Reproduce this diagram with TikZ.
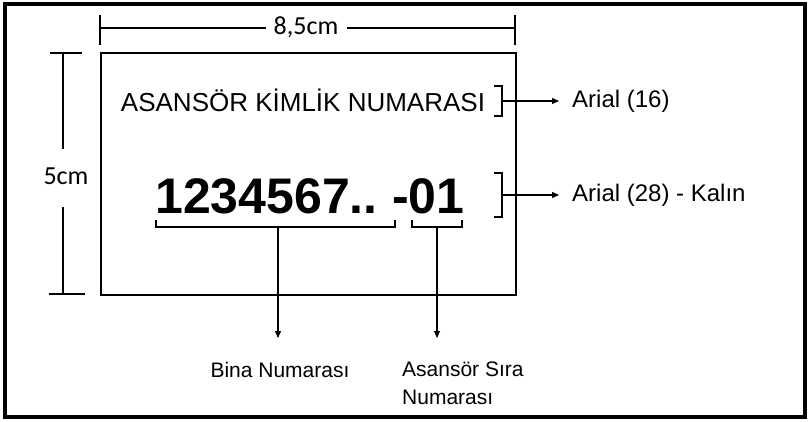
\documentclass[tikz,border=0pt]{standalone}
\usepackage{fontspec}
\setmainfont{Liberation Sans}
\newfontfamily\dimfont{Carlito}
\usepackage{tikz}
\usetikzlibrary{arrows.meta, positioning}

\begin{document}
\begin{tikzpicture}[x=1pt, y=-1pt, every node/.style={inner sep=0pt},
    dimline/.style={line width=1.3pt},
    dimtext/.style={font=\dimfont\fontsize{26}{26}\selectfont},
    brk/.style={line width=1.2pt},
    pointer/.style={line width=1.1pt, -{Triangle[length=7pt, width=6pt]}},
    lbl/.style={font=\fontsize{24}{24}\selectfont},
    sublbl/.style={font=\fontsize{21}{28}\selectfont},
    bignum/.style={font=\bfseries\fontsize{50}{50}\selectfont, anchor=base west}]
    \useasboundingbox (0,0) rectangle (808,422);
    \draw[line width=3.5pt] (5,4) rectangle (805,417);

    % plate
    \draw[line width=1.3pt] (101,53) rectangle (516,295);
    \node[font=\fontsize{26}{26}\selectfont] (title) at (303,100) {ASANSÖR KİMLİK NUMARASI};
    \node[bignum] (binano) at (155,213) {1234567..};
    \node[bignum] (sirano) at ([xshift=14pt]binano.base east) {-01};

    % dimensions
    \node[dimtext] (wlbl) at (306,27) {8,5cm};
    \coordinate (wl) at (100,28);
    \coordinate (wr) at (515,28);
    \draw[dimline] (100,15) -- (100,45);
    \draw[dimline] (515,15) -- (515,45);
    \draw[dimline] (wl) -- ([xshift=-8pt]wl -| wlbl.west);
    \draw[dimline] ([xshift=8pt]wr -| wlbl.east) -- (wr);

    \node[dimtext] (hlbl) at (66,176) {5cm};
    \coordinate (ht) at (63,53);
    \coordinate (hb) at (63,294);
    \draw[dimline] (50,53) -- (82,53);
    \draw[dimline] (49,294) -- (85,294);
    \draw[dimline] (ht) -- ([yshift=18pt]ht |- hlbl.north);
    \draw[dimline] ([yshift=-22pt]hb |- hlbl.south) -- (hb);

    % font notes
    \node[lbl, anchor=west] (f16) at (572,101) {Arial (16)};
    \node[lbl, anchor=west] (f28) at (572,195) {Arial (28) - Kalın};
    \coordinate (k1) at (502,101);
    \coordinate (k2) at (502,195);
    \draw[brk] (494,86) -- (502,86) -- (502,116) -- (494,116);
    \draw[brk] (494,173) -- (502,173) -- (502,217) -- (494,217);
    \draw[pointer, shorten >=13pt] (k1) -- (f16.west);
    \draw[pointer, shorten >=13pt] (k2) -- (f28.west);

    % parts of the number
    \node[sublbl, anchor=base] (bina) at (280,377) {Bina Numarası};
    \node[sublbl, anchor=north west, align=left] (sira) at (402,362) {Asansör Sıra\\Numarası};
    \coordinate (b1) at (278,227);
    \coordinate (b2) at (437,227);
    \coordinate (b1t) at (278,338);
    \coordinate (b2t) at (437,338);
    \draw[brk] (156,220) -- (156,227) -- (395,227) -- (395,220);
    \draw[brk] (412,220) -- (412,227) -- (462,227) -- (462,220);
    \draw[pointer] (b1) -- (b1t);
    \draw[pointer] (b2) -- (b2t);
\end{tikzpicture}
\end{document}
